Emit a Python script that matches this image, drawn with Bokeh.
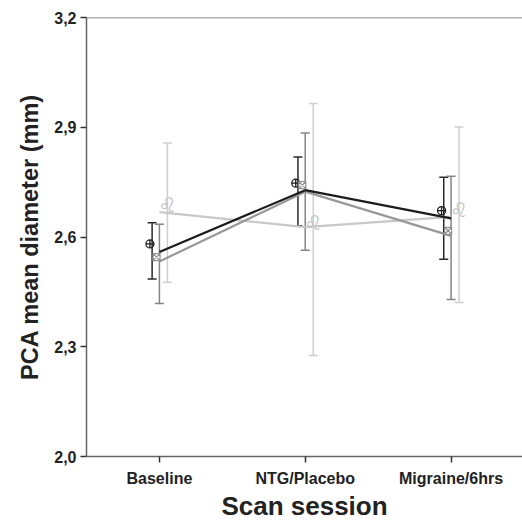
from bokeh.plotting import figure
from bokeh.models import Range1d, FixedTicker, Span, Whisker, ColumnDataSource, TeeHead
from bokeh.core.properties import value
from bokeh.embed import file_html
from bokeh.resources import INLINE

sessions = ["Baseline", "NTG/Placebo", "Migraine/6hrs"]
y_ticks = [2.0, 2.3, 2.6, 2.9, 3.2]
y_tick_labels = ["2,0", "2,3", "2,6", "2,9", "3,2"]

# series 1 (black)
black_line = [2.559, 2.728, 2.651]
black_mark = [2.581, 2.747, 2.672]
black_up = [2.639, 2.819, 2.763]
black_lo = [2.485, 2.631, 2.539]
# series 2 (dark gray)
dark_line = [2.533, 2.724, 2.603]
dark_mark = [2.545, 2.742, 2.617]
dark_up = [2.635, 2.884, 2.766]
dark_lo = [2.418, 2.564, 2.429]
# series 3 (light gray)
light_line = [2.668, 2.627, 2.655]
light_mark = [2.687, 2.638, 2.674]
light_up = [2.857, 2.965, 2.901]
light_lo = [2.476, 2.276, 2.421]

xs = list(range(len(sessions)))
FONT = "Liberation Sans"

p = figure(width=522, height=523, output_backend="svg", toolbar_location=None,
           x_range=Range1d(-0.5, 2.49), y_range=Range1d(2.0, 3.2),
           min_border_left=86, min_border_right=0, min_border_top=17, min_border_bottom=66)
p.outline_line_color = None
p.grid.visible = False
p.background_fill_color = "white"

p.add_layout(Span(location=3.2, dimension="width", line_color="#666666", line_width=1.5))

for ax in (p.xaxis[0], p.yaxis[0]):
    ax.axis_line_color = "#666666"
    ax.axis_line_width = 1.5
    ax.major_tick_line_color = "#333333"
    ax.major_tick_line_width = 1.5
    ax.major_tick_out = 6
    ax.major_tick_in = 0
    ax.minor_tick_line_color = None
    ax.major_label_text_font = FONT
    ax.major_label_text_font_style = "bold"
    ax.major_label_text_font_size = "16px"
    ax.major_label_text_color = "#222222"
    ax.axis_label_text_font = FONT
    ax.axis_label_text_font_style = "bold"
    ax.axis_label_text_color = "#222222"

p.xaxis.ticker = FixedTicker(ticks=xs)
p.xaxis.major_label_overrides = {i: s for i, s in enumerate(sessions)}
p.xaxis.axis_label = "Scan session"
p.xaxis.axis_label_text_font_size = "26px"
p.xaxis.axis_label_standoff = 1
p.xaxis.major_label_standoff = 7

p.yaxis.ticker = FixedTicker(ticks=y_ticks)
p.yaxis.major_label_overrides = {t: l for t, l in zip(y_ticks, y_tick_labels)}
p.yaxis.axis_label = "PCA mean diameter (mm)"
p.yaxis.axis_label_text_font_size = "23.5px"
p.yaxis.axis_label_standoff = 8
p.yaxis.major_label_standoff = 4

series = [
    (black_line, black_mark, black_up, black_lo, -0.05, "#1c1c1c", "#2a2a2a"),
    (dark_line, dark_mark, dark_up, dark_lo, 0.0, "#989898", "#858585"),
    (light_line, light_mark, light_up, light_lo, 0.055, "#c8c8c8", "#cfcfcf"),
]

# lines
for line, mark, up, lo, off, lc, ec in series[::-1]:
    p.line(xs, line, line_color=lc, line_width=2.2)

# error bars
for line, mark, up, lo, off, lc, ec in series:
    src = ColumnDataSource(dict(x=[x + off for x in xs], up=up, lo=lo))
    w = Whisker(source=src, base="x", upper="up", lower="lo", dimension="height",
                line_color=ec, line_width=1.5,
                upper_head=TeeHead(size=9, line_color=ec, line_width=1.5),
                lower_head=TeeHead(size=9, line_color=ec, line_width=1.5))
    p.add_layout(w)

# markers
bx = [x + series[0][4] - 0.015 for x in xs]
p.scatter(bx, black_mark, marker="circle_cross", size=8, fill_color=None,
          line_color="#1c1c1c", line_width=1.3)
dx = [x + series[1][4] - 0.02 for x in xs]
p.scatter(dx, dark_mark, marker="square_x", size=7, fill_color="white",
          line_color="#909090", line_width=1.2)
lx = [x + series[2][4] for x in xs]
p.text(lx, light_mark, text=["\u264c"] * 3, text_font=value("DejaVu Sans"),
       text_font_size="20px", text_color="#c0c0c0", text_align="center",
       text_baseline="middle")

open("out.html", "w").write(file_html(p, INLINE))
